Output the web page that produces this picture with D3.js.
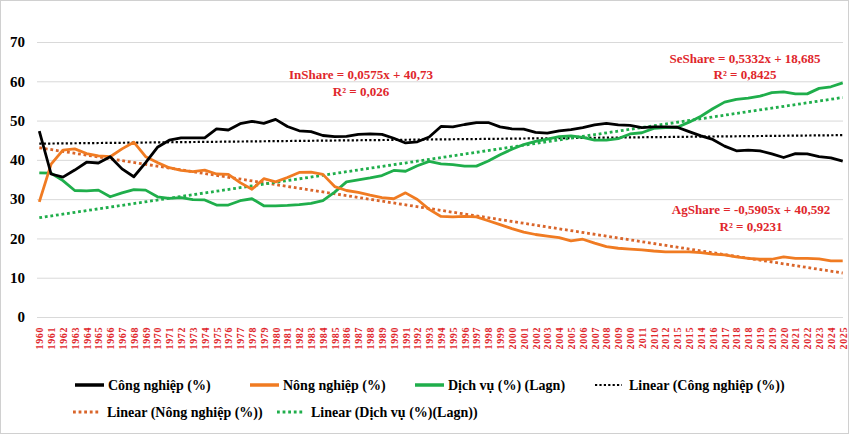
<!DOCTYPE html>
<html>
<head>
<meta charset="utf-8">
<script src="https://cdn.jsdelivr.net/npm/d3@7"></script>
<style>
  html, body { margin: 0; padding: 0; background: #fff; }
  svg { display: block; }
  text { font-family: "Liberation Serif", "Times New Roman", serif; font-weight: bold; }
</style>
</head>
<body>
<svg id="chart" width="850" height="435"></svg>
<script>
// ---------- DATA ----------
const yearLabels = [
  "1960","1961","1962","1963","1964","1965","1966","1967","1968","1969",
  "1970","1971","1972","1973","1974","1975","1976","1977","1978","1979",
  "1980","1981","1982","1983","1984","1985","1986","1987","1988","1989",
  "1990","1991","1992","1993","1994","1995","1996","1997","1998","1999",
  "2000","2001","2002","2003","2004","2005","2006","2007","2008","2009",
  "2000","2011","2010","2012","2015","2015","2014","2016","2017","2018",
  "2018","2019","2019","2020","2021","2022","2023","2024","2025"
];
const industry = [
  47.3,36.4,35.6,37.4,39.4,39.2,40.8,37.7,35.7,39.3,
  43.2,45.0,45.6,45.6,45.6,47.9,47.6,49.2,49.8,49.3,
  50.3,48.5,47.4,47.2,46.2,45.9,46.0,46.5,46.6,46.5,
  45.5,44.3,44.6,45.8,48.5,48.4,49.0,49.5,49.5,48.4,
  47.9,47.8,47.0,46.8,47.4,47.7,48.2,48.9,49.3,48.9,
  48.8,48.2,48.4,48.4,48.3,47.2,46.1,45.2,43.5,42.3,
  42.5,42.3,41.5,40.6,41.6,41.5,40.8,40.5,39.7
];
const agriculture = [
  29.3,38.9,42.5,42.8,41.6,41.0,40.8,42.8,44.5,40.8,
  39.3,38.0,37.3,37.0,37.4,36.4,36.3,34.2,32.5,35.2,
  34.4,35.5,36.8,36.9,36.3,33.2,32.2,31.7,31.0,30.4,
  30.1,31.6,29.9,27.4,25.6,25.5,25.6,25.5,24.5,23.5,
  22.5,21.6,21.0,20.6,20.2,19.4,19.8,18.8,17.9,17.5,
  17.3,17.1,16.8,16.6,16.6,16.6,16.4,16.0,15.8,15.3,
  14.9,14.7,14.7,15.3,14.9,14.9,14.8,14.3,14.3
];
const services = [
  36.7,36.6,34.7,32.2,32.1,32.3,30.6,31.6,32.4,32.3,
  30.6,30.2,30.4,29.9,29.8,28.5,28.5,29.6,30.1,28.3,
  28.3,28.4,28.6,28.9,29.6,31.8,34.4,34.9,35.4,36.0,
  37.3,37.1,38.5,39.6,39.0,38.8,38.4,38.4,39.7,41.3,
  42.7,43.9,44.7,45.3,45.9,46.1,45.7,45.0,45.0,45.4,
  46.6,46.9,48.0,48.2,48.3,49.6,51.1,53.0,54.7,55.4,
  55.7,56.2,57.1,57.3,56.8,56.8,58.2,58.6,59.6
];
const yTicks = [0,10,20,30,40,50,60,70];
const seriesNames = ["Công nghiệp (%)","Nông nghiệp (%)","Dịch vụ (%) (Lagn)"];
const trendNames = ["Linear (Công nghiệp (%))","Linear (Nông nghiệp (%))","Linear (Dịch vụ (%)(Lagn))"];
const equations = [
  ["InShare = 0,0575x + 40,73","R² = 0,026"],
  ["SeShare = 0,5332x + 18,685","R² = 0,8425"],
  ["AgShare = -0,5905x + 40,592","R² = 0,9231"]
];

// ---------- CHART ----------
const svg = d3.select("#chart");
const W = 850, H = 435;
const plotL = 37, plotR = 843, plotT = 42, plotB = 317;

svg.append("rect").attr("x",0.5).attr("y",0.5).attr("width",W-2).attr("height",H-2)
  .attr("fill","#fff").attr("stroke","#d0d0d0").attr("stroke-width",1);

const idx = d3.range(yearLabels.length);
const x = d3.scalePoint().domain(idx).range([39.3, 842.7]);
const y = d3.scaleLinear().domain([0,70]).range([plotB, plotT]);

// gridlines + y axis
const yAxis = d3.axisLeft(y).tickValues(yTicks).tickSize(-(plotR-plotL)).tickPadding(12).tickFormat(d3.format("d"));
const gy = svg.append("g").attr("transform",`translate(${plotL},0)`).call(yAxis);
gy.select(".domain").remove();
gy.selectAll(".tick line").attr("stroke","#d9d9d9").attr("stroke-width",1);
gy.selectAll(".tick text").attr("fill","#000").style("font-size","15px")
  .style("font-family",'"Liberation Serif","Times New Roman",serif').style("font-weight","bold");

// x axis labels
const xAxis = d3.axisBottom(x).tickSize(0).tickFormat(i => yearLabels[i]);
const gx = svg.append("g").attr("transform",`translate(0,${plotB})`).call(xAxis);
gx.select(".domain").remove();
gx.selectAll(".tick text")
  .attr("transform","rotate(-90)")
  .attr("x",-10).attr("y",0).attr("dy","0.35em")
  .style("text-anchor","end")
  .attr("fill","#e0262b")
  .style("font-size","10px").style("letter-spacing","0.6px")
  .style("font-family",'"Liberation Serif","Times New Roman",serif').style("font-weight","bold");

// regression helper
function linreg(vals){
  const n = vals.length;
  const mx = d3.mean(idx), my = d3.mean(vals);
  let sxy = 0, sxx = 0;
  vals.forEach((v,i)=>{ sxy += (i-mx)*(v-my); sxx += (i-mx)*(i-mx); });
  const b = sxy/sxx, a = my - b*mx;
  return [[0, a],[n-1, a + b*(n-1)]];
}

const styles = [
  {data: industry, color:"#000000", tcolor:"#000000", tw:2.2},
  {data: agriculture, color:"#f07b22", tcolor:"#d9652a", tw:2.8},
  {data: services, color:"#1fae4b", tcolor:"#1fae4b", tw:2.8}
];

const line = d3.line().x((d,i)=>x(i)).y(d=>y(d));
const tline = d3.line().x(d=>x(d[0])).y(d=>y(d[1]));

// trendlines
styles.forEach(s=>{
  svg.append("path").attr("d", tline(linreg(s.data)))
    .attr("fill","none").attr("stroke",s.tcolor).attr("stroke-width",s.tw)
    .attr("stroke-dasharray",`${s.tw} ${s.tw}`);
});
// series lines (draw green, orange, then black on top order like reference)
[2,1,0].forEach(k=>{
  const s = styles[k];
  svg.append("path").datum(s.data).attr("d", line)
    .attr("fill","none").attr("stroke",s.color).attr("stroke-width",2.8)
    .attr("stroke-linejoin","round");
});

// equations
const eqPos = [[361,79,96],[745,63,79],[751,214,231]];
equations.forEach((eq,k)=>{
  const [cx, y1, y2] = eqPos[k];
  svg.append("text").attr("x",cx).attr("y",y1).attr("text-anchor","middle")
    .attr("fill","#e0262b").style("font-size","13px").text(eq[0]);
  svg.append("text").attr("x",cx).attr("y",y2).attr("text-anchor","middle")
    .attr("fill","#e0262b").style("font-size","13px").text(eq[1]);
});

// legend
const legendItems = [
  {label: seriesNames[0], color: styles[0].color, dotted:false, x:75, y:385},
  {label: seriesNames[1], color: styles[1].color, dotted:false, x:250, y:385},
  {label: seriesNames[2], color: styles[2].color, dotted:false, x:415, y:385},
  {label: trendNames[0], color: styles[0].tcolor, dotted:true, tw:2.2, x:595, y:385},
  {label: trendNames[1], color: styles[1].tcolor, dotted:true, tw:2.8, x:73, y:412},
  {label: trendNames[2], color: styles[2].tcolor, dotted:true, tw:2.8, x:277, y:412}
];
legendItems.forEach(it=>{
  const g = svg.append("g").attr("transform",`translate(${it.x},${it.y})`);
  const len = it.dotted ? 27 : 29;
  const ln = g.append("line").attr("x1",0).attr("x2",len).attr("y1",0).attr("y2",0)
    .attr("stroke",it.color);
  if (it.dotted) ln.attr("stroke-width",it.tw).attr("stroke-dasharray",`${it.tw} ${it.tw}`);
  else ln.attr("stroke-width",3.5);
  g.append("text").attr("x", len + (it.dotted ? 7 : 4)).attr("y",0).attr("dy","0.35em")
    .attr("fill","#000").style("font-size","14px").text(it.label);
});
</script>
</body>
</html>
